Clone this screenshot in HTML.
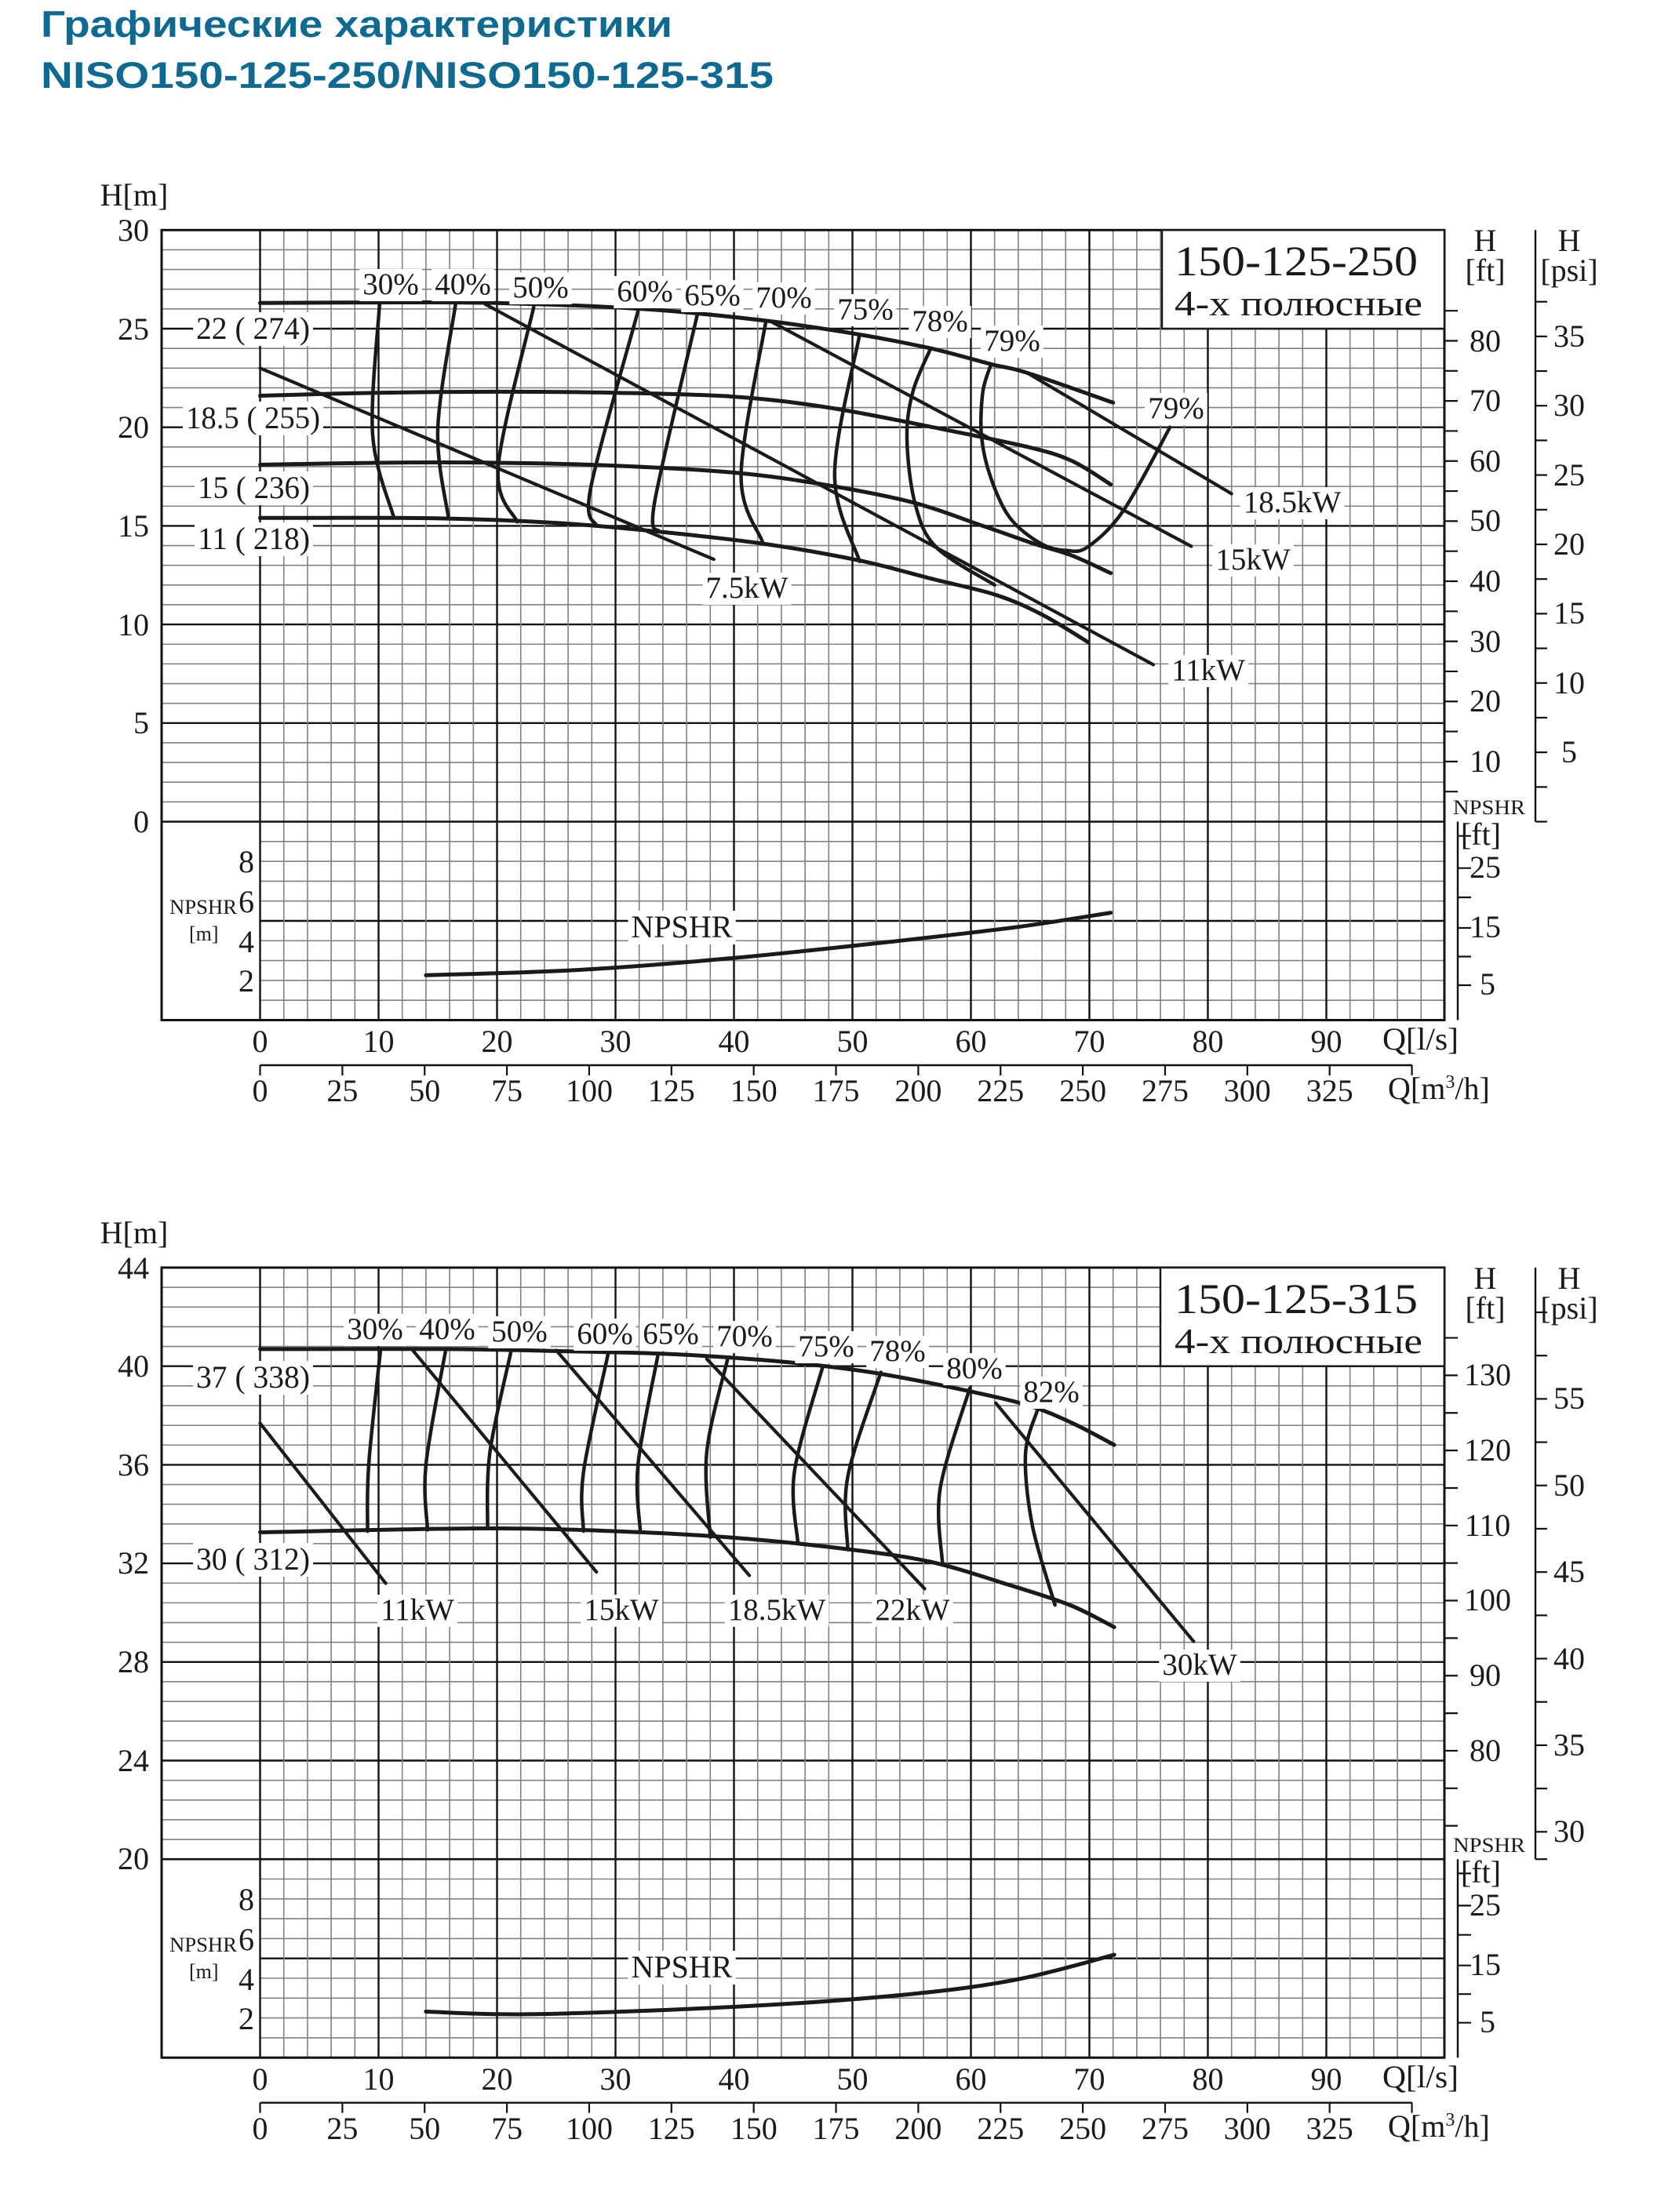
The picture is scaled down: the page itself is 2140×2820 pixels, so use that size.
<!DOCTYPE html>
<html><head><meta charset="utf-8"><style>
html,body{margin:0;padding:0;background:#fff}
svg{display:block}
text{font-family:"Liberation Serif","Noto Serif CJK SC",serif;fill:#1a1a1a}
.t{font-family:"Liberation Sans","Noto Sans CJK SC",sans-serif;font-weight:bold;fill:#0f6a92}
.n{font-size:40px}
.e{font-size:39px}
.s{font-size:26px}
</style></head><body>
<svg id="svg" xmlns="http://www.w3.org/2000/svg" width="2140" height="2820" viewBox="0 0 2140 2820">
<rect x="0" y="0" width="2140" height="2820" fill="#fff"/>
<g id="grid"></g>
<g id="bgs"></g>
<g id="curves"></g>
<g id="labels">
<text class="t" x="52" y="47" font-size="47" textLength="805" lengthAdjust="spacingAndGlyphs">Графические характеристики</text>
<text class="t" x="52" y="112" font-size="47" textLength="934" lengthAdjust="spacingAndGlyphs">NISO150-125-250/NISO150-125-315</text>

<!-- ===== Chart 1 ===== -->
<text class="n" x="171" y="262" text-anchor="middle" font-size="37">H[m]</text>
<g class="n" text-anchor="end">
<text x="190" y="307">30</text><text x="190" y="433">25</text><text x="190" y="558">20</text>
<text x="190" y="684">15</text><text x="190" y="810">10</text><text x="190" y="935">5</text>
<text x="190" y="1061">0</text>
<text x="324" y="1112">8</text><text x="324" y="1163">6</text><text x="324" y="1214">4</text><text x="324" y="1264">2</text>
</g>
<text class="s" x="216" y="1165" textLength="86" lengthAdjust="spacingAndGlyphs">NPSHR</text>
<text class="s" x="241" y="1199">[m]</text>
<text class="bg n" x="250" y="432" font-size="37" textLength="145" lengthAdjust="spacingAndGlyphs">22 (  274)</text>
<text class="bg n" x="237" y="546" font-size="37" textLength="171" lengthAdjust="spacingAndGlyphs">18.5 (  255)</text>
<text class="bg n" x="252" y="635" font-size="37" textLength="143" lengthAdjust="spacingAndGlyphs">15 (  236)</text>
<text class="bg n" x="252" y="700" font-size="37" textLength="143" lengthAdjust="spacingAndGlyphs">11 (  218)</text>

<g class="e" text-anchor="middle">
<text class="bg" x="498" y="375">30%</text><text class="bg" x="590" y="375">40%</text>
<text class="bg" x="689" y="379">50%</text><text class="bg" x="822" y="384">60%</text>
<text class="bg" x="908" y="389">65%</text><text class="bg" x="999" y="392">70%</text>
<text class="bg" x="1103" y="407">75%</text><text class="bg" x="1198" y="422">78%</text>
<text class="bg" x="1290" y="447">79%</text><text class="bg" x="1499" y="533">79%</text>
<text class="bg" x="952" y="762">7.5kW</text><text class="bg" x="1540" y="867">11kW</text>
<text class="bg" x="1597" y="726">15kW</text><text class="bg" x="1647" y="653">18.5kW</text>
<text class="bg" x="869" y="1195" font-size="40">NPSHR</text>
</g>
<rect x="1481" y="293.3" width="360" height="125.7" fill="#fff" stroke="#1a1a1a" stroke-width="2.5"/>
<text x="1497" y="351" font-size="54" textLength="310" lengthAdjust="spacingAndGlyphs">150-125-250</text>
<text x="1497" y="402" font-size="46" textLength="316" lengthAdjust="spacingAndGlyphs">4-х полюсные</text>

<g class="n" text-anchor="middle">
<text x="1893" y="320">H</text><text x="1893" y="358">[ft]</text>
<text x="2000" y="320">H</text><text x="2000" y="358">[psi]</text>
<text x="1893" y="984">10</text><text x="1893" y="907">20</text><text x="1893" y="831">30</text>
<text x="1893" y="754">40</text><text x="1893" y="677">50</text><text x="1893" y="601">60</text>
<text x="1893" y="524">70</text><text x="1893" y="448">80</text>
<text x="2000" y="972">5</text><text x="2000" y="884">10</text><text x="2000" y="795">15</text>
<text x="2000" y="707">20</text><text x="2000" y="619">25</text><text x="2000" y="530">30</text>
<text x="2000" y="442">35</text>
</g>
<text class="s" x="1852" y="1038" textLength="92" lengthAdjust="spacingAndGlyphs">NPSHR</text>
<g class="n" text-anchor="end" font-size="35">
<text x="1913" y="1077">[ft]</text><text x="1913" y="1119">25</text><text x="1913" y="1195">15</text><text x="1906" y="1268">5</text>
</g>
<g class="n" text-anchor="middle">
<text x="331.5" y="1341">0</text><text x="482.5" y="1341">10</text><text x="633.5" y="1341">20</text>
<text x="784.5" y="1341">30</text><text x="935.5" y="1341">40</text><text x="1086.5" y="1341">50</text>
<text x="1237.5" y="1341">60</text><text x="1388.5" y="1341">70</text><text x="1539.5" y="1341">80</text>
<text x="1690.5" y="1341">90</text>
<text x="331.5" y="1404">0</text><text x="436.4" y="1404">25</text><text x="541.2" y="1404">50</text>
<text x="646.1" y="1404">75</text><text x="751" y="1404">100</text><text x="855.8" y="1404">125</text>
<text x="960.7" y="1404">150</text><text x="1065.5" y="1404">175</text><text x="1170.4" y="1404">200</text>
<text x="1275.3" y="1404">225</text><text x="1380.1" y="1404">250</text><text x="1485" y="1404">275</text>
<text x="1589.8" y="1404">300</text><text x="1694.7" y="1404">325</text>
</g>
<text class="n" x="1762" y="1338" textLength="97" lengthAdjust="spacingAndGlyphs">Q[l/s]</text>
<text class="n" x="1769" y="1401">Q[m<tspan font-size="24" dy="-14">3</tspan><tspan dy="14">/h]</tspan></text>

<!-- ===== Chart 2 ===== -->
<text class="n" x="171" y="1585" text-anchor="middle" font-size="37">H[m]</text>
<g class="n" text-anchor="end">
<text x="190" y="1630">44</text><text x="190" y="1755">40</text><text x="190" y="1881">36</text>
<text x="190" y="2006">32</text><text x="190" y="2132">28</text><text x="190" y="2258">24</text>
<text x="190" y="2383">20</text>
<text x="324" y="2435">8</text><text x="324" y="2486">6</text><text x="324" y="2537">4</text><text x="324" y="2587">2</text>
</g>
<text class="s" x="216" y="2488" textLength="86" lengthAdjust="spacingAndGlyphs">NPSHR</text>
<text class="s" x="241" y="2522">[m]</text>
<text class="bg n" x="250" y="1769" font-size="37" textLength="145" lengthAdjust="spacingAndGlyphs">37 (  338)</text>
<text class="bg n" x="250" y="2001" font-size="37" textLength="145" lengthAdjust="spacingAndGlyphs">30 (  312)</text>
<g class="e" text-anchor="middle">
<text class="bg" x="478" y="1707">30%</text><text class="bg" x="570" y="1707">40%</text>
<text class="bg" x="662" y="1710">50%</text><text class="bg" x="771" y="1713">60%</text>
<text class="bg" x="855" y="1713">65%</text><text class="bg" x="949" y="1716">70%</text>
<text class="bg" x="1053" y="1729">75%</text><text class="bg" x="1144" y="1735">78%</text>
<text class="bg" x="1242" y="1757">80%</text><text class="bg" x="1340" y="1787">82%</text>
<text class="bg" x="532" y="2065">11kW</text><text class="bg" x="792" y="2065">15kW</text>
<text class="bg" x="990" y="2065">18.5kW</text><text class="bg" x="1163" y="2065">22kW</text>
<text class="bg" x="1529" y="2135">30kW</text>
<text class="bg" x="869" y="2521" font-size="40">NPSHR</text>
</g>
<rect x="1479" y="1616" width="362" height="125.7" fill="#fff" stroke="#1a1a1a" stroke-width="2.5"/>
<text x="1497" y="1674" font-size="54" textLength="310" lengthAdjust="spacingAndGlyphs">150-125-315</text>
<text x="1497" y="1725" font-size="46" textLength="316" lengthAdjust="spacingAndGlyphs">4-х полюсные</text>
<g class="n" text-anchor="middle">
<text x="1893" y="1643">H</text><text x="1893" y="1681">[ft]</text>
<text x="2000" y="1643">H</text><text x="2000" y="1681">[psi]</text>
<text x="1893" y="2245">80</text><text x="1893" y="2149">90</text><text x="1896" y="2053">100</text>
<text x="1896" y="1958">110</text><text x="1896" y="1862">120</text><text x="1896" y="1766">130</text>
<text x="2000" y="2348">30</text><text x="2000" y="2238">35</text><text x="2000" y="2128">40</text>
<text x="2000" y="2017">45</text><text x="2000" y="1907">50</text><text x="2000" y="1796">55</text>
</g>
<text class="s" x="1852" y="2361" textLength="92" lengthAdjust="spacingAndGlyphs">NPSHR</text>
<g class="n" text-anchor="end" font-size="35">
<text x="1913" y="2400">[ft]</text><text x="1913" y="2442">25</text><text x="1913" y="2518">15</text><text x="1906" y="2591">5</text>
</g>
<g class="n" text-anchor="middle">
<text x="331.5" y="2664">0</text><text x="482.5" y="2664">10</text><text x="633.5" y="2664">20</text>
<text x="784.5" y="2664">30</text><text x="935.5" y="2664">40</text><text x="1086.5" y="2664">50</text>
<text x="1237.5" y="2664">60</text><text x="1388.5" y="2664">70</text><text x="1539.5" y="2664">80</text>
<text x="1690.5" y="2664">90</text>
<text x="331.5" y="2727">0</text><text x="436.4" y="2727">25</text><text x="541.2" y="2727">50</text>
<text x="646.1" y="2727">75</text><text x="751" y="2727">100</text><text x="855.8" y="2727">125</text>
<text x="960.7" y="2727">150</text><text x="1065.5" y="2727">175</text><text x="1170.4" y="2727">200</text>
<text x="1275.3" y="2727">225</text><text x="1380.1" y="2727">250</text><text x="1485" y="2727">275</text>
<text x="1589.8" y="2727">300</text><text x="1694.7" y="2727">325</text>
</g>
<text class="n" x="1762" y="2661" textLength="97" lengthAdjust="spacingAndGlyphs">Q[l/s]</text>
<text class="n" x="1769" y="2724">Q[m<tspan font-size="24" dy="-14">3</tspan><tspan dy="14">/h]</tspan></text>
</g>
</svg>
<script>
(function(){
var NS='http://www.w3.org/2000/svg';
var grid=document.getElementById('grid'),cur=document.getElementById('curves'),bgs=document.getElementById('bgs');
function ln(g,x1,y1,x2,y2,c,w){var e=document.createElementNS(NS,'line');e.setAttribute('x1',x1);e.setAttribute('y1',y1);e.setAttribute('x2',x2);e.setAttribute('y2',y2);e.setAttribute('stroke',c);e.setAttribute('stroke-width',w);g.appendChild(e);}
function X(q){return 331.5+15.1*q;}
var L=206,R=1841;
function drawGrid(oy){
 var T=293.3+oy,B0=1047.5+oy,Bn=1300.5+oy,st=25.14;
 for(var i=1;i<30;i++){var y=T+i*st;var mj=i%5==0;ln(grid,L,y,R,y,mj?'#111':'#808080',mj?2.4:1.6);}
 for(var j=1;j<10;j++){var y=B0+j*25.3;var mj=j==5;ln(grid,X(0),y,R,y,mj?'#111':'#808080',mj?2.4:1.6);}
 for(var q=0;q<100;q+=2){var x=X(q);var mj=q%10==0;ln(grid,x,T,x,Bn,mj?'#111':'#808080',mj?2.4:1.6);}
 ln(grid,L,B0,R,B0,'#111',2.6);
 var r=document.createElementNS(NS,'rect');r.setAttribute('x',L);r.setAttribute('y',T);r.setAttribute('width',R-L);r.setAttribute('height',Bn-T);r.setAttribute('fill','none');r.setAttribute('stroke','#111');r.setAttribute('stroke-width',3);grid.appendChild(r);
 ln(grid,1957,T,1957,B0,'#111',2.4);ln(grid,1957,B0,1972,B0,'#111',2.2);
 ln(grid,1858,B0,1858,Bn,'#111',2.4);
 [18.2,59.2,96.5,135.5,172,208.5].forEach(function(d){ln(grid,1858,B0+d,1875,B0+d,'#111',2.2);});
 var ay=1358+oy;ln(grid,X(0),ay,1800,ay,'#111',2.4);
 for(var m=0;m<=350;m+=25){var x=331.5+m/3.6*15.1;ln(grid,x,ay,x,ay+13,'#111',2.2);}
}
drawGrid(0);drawGrid(1322.7);
for(var f=5;f<=85;f+=5){var y=1047.5-f*0.3048*25.14;ln(grid,R,y,R+17,y,'#111',2.2);}
for(var p=2.5;p<=37.6;p+=2.5){var y=1047.5-p*0.70307*25.14;ln(grid,1957,y,1972,y,'#111',2.2);}
function Y2(h){return 1616+(44-h)*31.4;}
for(var f=70;f<=135;f+=5){var y=Y2(f*0.3048);ln(grid,R,y,R+17,y,'#111',2.2);}
for(var p=30;p<=60;p+=2.5){var y=Y2(p*0.70307);ln(grid,1957,y,1972,y,'#111',2.2);}

function Y1(h){return 1047.5-25.14*h;}
function N1(n){return 1300.5-25.3*n;}
function N2(n){return 1300.5+1322.7-25.3*n;}
function path(pts,fy,w){
 var P=pts.map(function(p){return [X(p[0]),fy(p[1])];});
 var d='M'+P[0][0].toFixed(1)+' '+P[0][1].toFixed(1);
 if(P.length==2){d+=' L'+P[1][0].toFixed(1)+' '+P[1][1].toFixed(1);}
 else for(var i=0;i<P.length-1;i++){
  var p0=P[i-1]||P[i],p1=P[i],p2=P[i+1],p3=P[i+2]||P[i+1];
  var c1=[p1[0]+(p2[0]-p0[0])/6,p1[1]+(p2[1]-p0[1])/6],c2=[p2[0]-(p3[0]-p1[0])/6,p2[1]-(p3[1]-p1[1])/6];
  d+=' C'+c1[0].toFixed(1)+' '+c1[1].toFixed(1)+' '+c2[0].toFixed(1)+' '+c2[1].toFixed(1)+' '+p2[0].toFixed(1)+' '+p2[1].toFixed(1);
 }
 var e=document.createElementNS(NS,'path');e.setAttribute('d',d);e.setAttribute('fill','none');e.setAttribute('stroke','#1a1a1a');e.setAttribute('stroke-width',w||5);e.setAttribute('stroke-linecap','round');e.setAttribute('stroke-linejoin','round');cur.appendChild(e);
}
[
[[0,26.3],[10,26.33],[20,26.3],[32.3,26.0],[42.7,25.4],[50.6,24.7],[56.6,24.0],[61.7,23.2],[64.8,22.75],[72,21.25]],
[[0,21.6],[10,21.75],[20,21.8],[30,21.75],[40,21.55],[48,21.0],[56.8,20.0],[64.8,19.0],[68.5,18.3],[71.8,17.1]],
[[0,18.1],[10,18.2],[20,18.2],[30,18.05],[40,17.7],[47.5,17.1],[55,16.2],[61,15.0],[65.3,14.1],[68.5,13.5],[71.8,12.6]],
[[0,15.4],[14.4,15.39],[25,15.15],[33.7,14.7],[42.4,14.1],[50.6,13.24],[56.8,12.3],[62.1,11.5],[66,10.5],[69.9,9.1]]
].forEach(function(c){path(c,Y1,5);});
[
[[10.1,26.35],[9.5,19.65],[11.3,15.4]],
[[16.5,26.24],[15.0,19.9],[15.9,15.4]],
[[23.1,26.1],[20.1,18.0],[21.7,15.2]],
[[31.9,25.9],[27.9,16.9],[28.4,15.0]],
[[36.9,25.7],[33.3,16.2],[33.7,14.7]],
[[42.7,25.4],[40.6,17.6],[42.4,14.2]],
[[50.6,24.7],[48.5,17.6],[50.6,13.2]],
[[56.6,24.0],[55.1,21.8],[54.6,19.4],[55.3,16.1],[57.1,13.9],[62,12.0]],
[[61.7,23.2],[61.0,21.77],[60.9,19.5],[61.7,17.4],[63.3,15.4],[65.9,14.1],[68.1,13.75],[69.9,13.95],[72.9,15.8],[76.8,20.0]]
].forEach(function(c){path(c,Y1,4.5);});
[[[0,23.0],[38.3,13.3]],[[19,26.24],[75.4,7.96]],[[43.2,25.34],[78.6,13.96]],[[64.8,22.74],[82.0,16.63]]].forEach(function(c){path(c,Y1,4.2);});
path([[14,2.26],[26.9,2.53],[40,3.13],[54,4.0],[64,4.7],[71.8,5.41]],N1,5);
[
[[0,40.69],[16,40.69],[25,40.61],[34.1,40.5],[41.3,40.29],[46.7,40.05],[52.2,39.7],[59.4,39.03],[64.8,38.41],[68.5,37.7],[72.1,36.8]],
[[0,33.25],[19.2,33.41],[32.3,33.25],[41.3,32.98],[50.4,32.52],[56.7,32.04],[63,31.15],[68.4,30.29],[72.1,29.4]]
].forEach(function(c){path(c,Y2,5);});
[
[[10.17,40.69],[9.17,36],[9.07,33.3]],
[[15.68,40.69],[14.0,36],[14.13,33.35]],
[[21.2,40.64],[19.4,36.5],[19.2,33.41]],
[[29.4,40.55],[27.3,35.7],[27.3,33.3]],
[[33.6,40.5],[31.9,36.0],[32.1,33.25]],
[[39.5,40.35],[37.7,36.5],[38.0,33.05]],
[[47.5,40.0],[45.1,35.7],[45.4,32.8]],
[[52.4,39.75],[49.6,35.5],[49.6,32.55]],
[[59.9,39.1],[57.4,35.0],[57.6,31.95]],
[[65.6,38.2],[64.6,36.4],[65.2,33.5],[67.1,30.3]]
].forEach(function(c){path(c,Y2,4.5);});
[[[0,37.68],[10.6,31.18]],[[12.8,40.69],[28.4,31.64]],[[25,40.64],[41.3,31.5]],[[37.7,40.29],[56.1,30.96]],[[62.1,38.5],[78.8,28.82]]].forEach(function(c){path(c,Y2,4.2);});
path([[14,2.32],[23.2,2.19],[41.3,2.6],[54.9,3.2],[63.9,3.94],[72.1,5.18]],N2,5);
var ts=document.querySelectorAll('text.bg');
for(var k=0;k<ts.length;k++){try{var b=ts[k].getBBox();var r=document.createElementNS(NS,'rect');r.setAttribute('x',b.x-4);r.setAttribute('y',b.y+2);r.setAttribute('width',b.width+8);r.setAttribute('height',b.height-2);r.setAttribute('fill','#fff');bgs.appendChild(r);}catch(e){}}
var svg=document.getElementById('svg');svg.insertBefore(bgs,document.getElementById('labels'));
})();
</script>
</body></html>
